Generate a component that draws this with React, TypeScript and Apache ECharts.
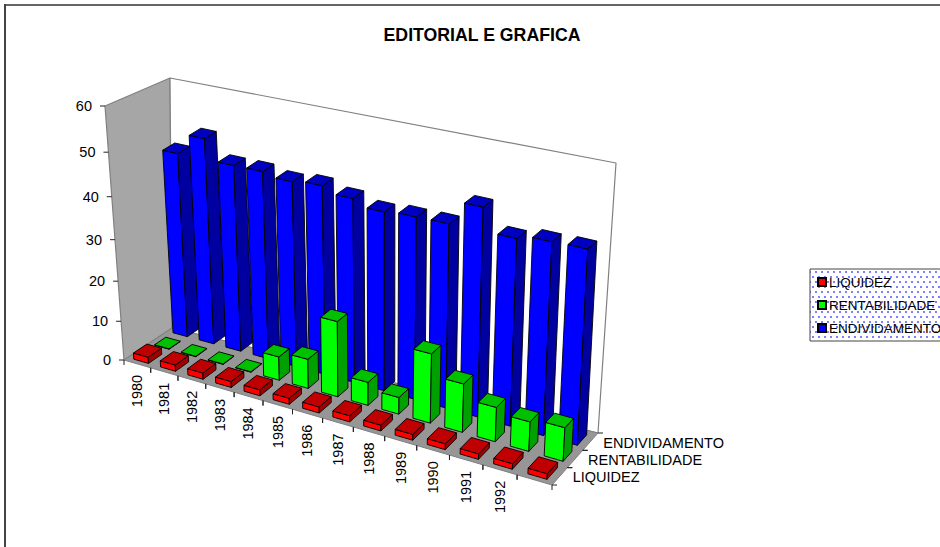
import React, { useEffect, useRef } from "react";
import * as echarts from "echarts";

const TITLE = "EDITORIAL E GRAFICA";
const categories = ["1980","1981","1982","1983","1984","1985","1986","1987","1988","1989","1990","1991","1992",""];
const seriesNames = ["LIQUIDEZ", "RENTABILIDADE", "ENDIVIDAMENTO"];
const liquidez = [1.6,1.6,1.6,1.5,1.5,1.5,1.5,1.5,1.4,1.4,1.4,1.3,1.3,1.3];
const rentabilidade = [0.1,0.1,0.1,0.1,5.9,7.3,18.4,5.7,4.1,16.6,11.6,8.2,7,7.9];
const endividamento = [44.9,49.6,45,45.1,44.3,44.9,43.6,42.2,42.7,42.8,48,43,44,44.2];
const valueTicks = [0,10,20,30,40,50,60];

const W = 940, H = 547;
const FLOOR = [[124,360],[552,485],[598,433],[172,328]];
const TOP = [[105,106],[567,198],[616,163],[170,78]];
const K = 0.9;
const C = 1.155;
const BAR_W = 0.55;
const LEAN = [-0.058, 0.113];
const RECEDE = 0.2;
const DEPTH = [[0.08,0.28],[0.515,0.235],[0.9,0.25]];
const FONT = "14.5px 'Liberation Sans', Arial, sans-serif";
const FACES = [
  { front: "#ff0000", side: "#a00000", top: "#c00000" },
  { front: "#00ff00", side: "#00a000", top: "#00c000" },
  { front: "#0000ff", side: "#0000a0", top: "#0000c0" },
];

const warp = (u:number)=>u/(C-(C-1)*u);
function bil(q:number[][],u:number,v:number){
  const t=warp(u);
  const a=[q[0][0]+(q[1][0]-q[0][0])*t,q[0][1]+(q[1][1]-q[0][1])*t];
  const b=[q[3][0]+(q[2][0]-q[3][0])*t,q[3][1]+(q[2][1]-q[3][1])*t];
  return [a[0]+(b[0]-a[0])*v,a[1]+(b[1]-a[1])*v];
}
function proj(u:number,v:number,w:number){
  const p0=bil(FLOOR,u,v), p1=bil(TOP,u,v);
  const d=(1-w)+K*w;
  return [(p0[0]*(1-w)+K*w*p1[0])/d,(p0[1]*(1-w)+K*w*p1[1])/d];
}
function barProj(u:number,vIn:number,w:number){
  const v=vIn*(1-RECEDE*warp(u));
  const p0=bil(FLOOR,u,v), p=proj(u,v,w);
  const lean=LEAN[0]+LEAN[1]*warp(u);
  return [p0[0]+lean*(p0[1]-p[1]),p[1]];
}

const poly=(points:number[][],fill:string,stroke="#000",lineWidth=0.9)=>({
  type:"polygon",shape:{points},style:{fill,stroke,lineWidth,lineJoin:"round"},
});
const line=(a:number[],b:number[],stroke="#222")=>({
  type:"line",shape:{x1:a[0],y1:a[1],x2:b[0],y2:b[1]},style:{stroke,lineWidth:1},
});
const label=(x:number,y:number,text:string,textAlign:string,rotation=0)=>({
  type:"text",x,y,rotation,
  style:{text,font:FONT,fill:"#000",textAlign,textVerticalAlign:"middle"},
});

function barSeries(idx:number,values:number[]){
  return {
    type:"custom",name:seriesNames[idx],z:10+(3-idx),silent:true,
    coordinateSystem:"cartesian2d",
    itemStyle:{color:FACES[idx].front,borderColor:"#000",borderWidth:1},
    encode:{x:0,y:1},
    data:values.map((v,i)=>[i,v]),
    renderItem:(_:any,api:any)=>{
      const c=api.coord([api.value(0),api.value(1)]);
      const bw=api.size([1,0])[0]/W*BAR_W;
      const u=c[0]/W;
      const w=1-c[1]/H;
      const u0=u-bw/2,u1=u+bw/2;
      const [v0,dv]=DEPTH[idx];
      const v1=v0+dv;
      const f=FACES[idx];
      return {type:"group",children:[
        poly([barProj(u0,v0,0),barProj(u1,v0,0),barProj(u1,v0,w),barProj(u0,v0,w)],f.front),
        poly([barProj(u1,v0,0),barProj(u1,v1,0),barProj(u1,v1,w),barProj(u1,v0,w)],f.side),
        poly([barProj(u0,v0,w),barProj(u1,v0,w),barProj(u1,v1,w),barProj(u0,v1,w)],f.top),
      ]};
    },
  };
}

export default function App(){
  const ref=useRef<HTMLDivElement>(null);
  useEffect(()=>{
    document.body.style.margin="0";
    const chart=echarts.init(ref.current!,null,{renderer:"svg"});
    const cv=document.createElement("canvas");
    cv.width=12;cv.height=10;
    const ctx=cv.getContext("2d")!;
    ctx.fillStyle="#ffffff";ctx.fillRect(0,0,12,10);
    ctx.fillStyle="#8080ff";
    ctx.fillRect(1,1,2,2);ctx.fillRect(7,1,2,2);ctx.fillRect(4,6,2,2);ctx.fillRect(10,6,2,2);
    chart.setOption({
      animation:false,
      backgroundColor:"#fff",
      title:{text:TITLE,left:477,top:21,textAlign:"center",
        textStyle:{fontFamily:"'Liberation Sans', Arial, sans-serif",fontSize:17.7,fontWeight:"bold",color:"#000"}},
      grid:{left:0,top:0,width:W,height:H,show:false},
      xAxis:{type:"category",data:categories,show:false},
      yAxis:{type:"value",min:0,max:60,show:false},
      legend:{
        left:810,top:269,orient:"vertical",
        data:seriesNames,
        icon:"rect",itemWidth:8,itemHeight:8,itemGap:9,
        padding:[6,8,6,7],
        backgroundColor:{image:cv,repeat:"repeat"} as any,
        borderColor:"#444",borderWidth:1,borderRadius:0,
        textStyle:{fontFamily:"'Liberation Sans', Arial, sans-serif",fontSize:13.5,color:"#000",padding:[0,0,0,-2]},
      },
      graphic:[
        {type:"line",shape:{x1:4,y1:5,x2:940,y2:5},style:{stroke:"#666",lineWidth:2},z:100},
        {type:"line",shape:{x1:5,y1:4,x2:5,y2:547},style:{stroke:"#444",lineWidth:2},z:100},
      ],
      series:[
        {
          type:"custom",z:1,silent:true,data:[[0,0]],coordinateSystem:"cartesian2d",encode:{x:0,y:1},
          renderItem:()=>{
            const g="#808080";
            return {type:"group",children:[
              poly([proj(0,0,0),proj(0,1,0),proj(0,1,1),proj(0,0,1)],"#a6a6a6",g,1.2),
              poly([proj(0,1,0),proj(1,1,0),proj(1,1,1),proj(0,1,1)],"#ffffff",g,1.2),
              poly([proj(0,0,0),proj(1,0,0),proj(1,1,0),proj(0,1,0)],"#969696",g,1),
            ]};
          },
        },
        {
          type:"custom",z:2,silent:true,coordinateSystem:"cartesian2d",encode:{x:0,y:1},
          data:valueTicks.map(v=>[0,v]),
          renderItem:(_:any,api:any)=>{
            const val=api.value(1);
            const w=1-api.coord([0,val])[1]/H;
            const p=proj(0,0,w);
            return {type:"group",children:[
              line(p,[p[0]-5,p[1]]),
              label(p[0]-13,p[1],String(val),"right"),
            ]};
          },
        },
        {
          type:"custom",z:2,silent:true,coordinateSystem:"cartesian2d",encode:{x:0,y:1},
          data:categories.map((_,i)=>[i,0]),
          renderItem:(_:any,api:any)=>{
            const i=api.value(0);
            const c=api.coord([i,0]);
            const bw=api.size([1,0])[0]/W;
            const u=c[0]/W;
            const a=proj(u-bw/2,0,0);
            const b=proj(u+bw/2,0,0);
            const m=proj(u,0,0);
            const children:any[]=[line(a,[a[0],a[1]+5]),line(b,[b[0],b[1]+5])];
            if(categories[i]) children.push(label(m[0],m[1]+11,categories[i],"right",Math.PI/2));
            return {type:"group",children};
          },
        },
        {
          type:"custom",z:2,silent:true,coordinateSystem:"cartesian2d",encode:{x:0,y:1},
          data:seriesNames.map((_,i)=>[0,0,i]),
          renderItem:(_:any,api:any)=>{
            const i=api.value(2);
            const a=proj(1,i/3,0),b=proj(1,(i+1)/3,0),m=proj(1,(i+0.5)/3,0);
            return {type:"group",children:[
              line(a,[a[0]+5,a[1]]),line(b,[b[0]+5,b[1]]),
              label(m[0]+13,m[1]+1,seriesNames[i],"left"),
            ]};
          },
        },
        barSeries(2,endividamento),
        barSeries(1,rentabilidade),
        barSeries(0,liquidez),
      ],
    } as any);
    return ()=>chart.dispose();
  },[]);
  return <div ref={ref} style={{width:W,height:H}}/>;
}
